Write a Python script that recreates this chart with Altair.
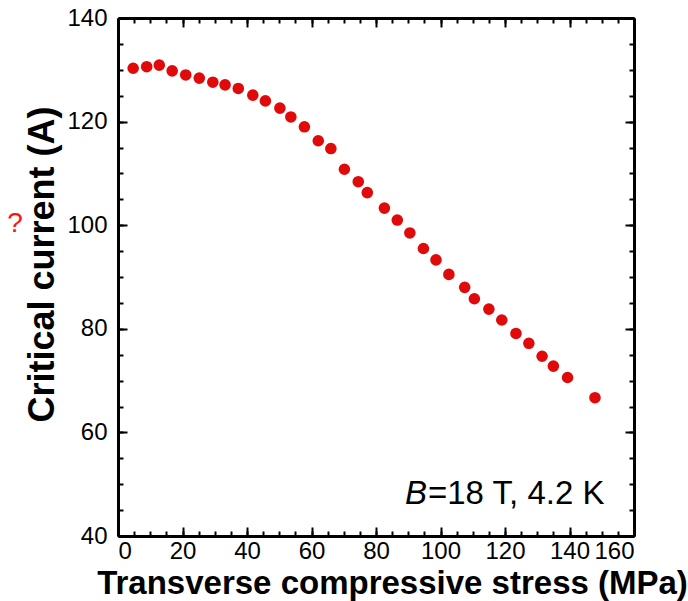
import altair as alt
import pandas as pd

# Transverse compressive stress (MPa) and measured critical current (A)
stress = [4.7, 8.9, 12.8, 16.8, 21.0, 25.2, 29.4, 33.2, 37.3, 41.8, 45.7, 50.2,
          53.6, 57.8, 62.1, 66.0, 70.2, 74.5, 77.3, 82.6, 86.6, 90.5, 94.7, 98.6,
          102.6, 107.5, 110.5, 115.0, 119.0, 123.4, 127.4, 131.5, 135.0, 139.4, 147.9]
current = [130.3, 130.6, 130.9, 129.8, 129.0, 128.4, 127.6, 127.1, 126.4, 125.1, 124.0, 122.6,
           120.9, 119.0, 116.3, 114.8, 110.8, 108.4, 106.3, 103.3, 101.0, 98.5, 95.5, 93.3,
           90.5, 88.0, 85.8, 83.8, 81.7, 79.1, 77.2, 74.7, 72.8, 70.6, 66.7]

x_major = list(range(0, 161, 20))
x_minor = list(range(0, 161, 5))
y_major = list(range(40, 141, 20))
y_minor = list(range(40, 141, 5))

W, H = 516, 518
FONT = "Liberation Sans"

df = pd.DataFrame({"stress": stress, "current": current})
xs = alt.Scale(domain=[0, 160], nice=False, zero=False)
ys = alt.Scale(domain=[40, 140], nice=False, zero=False)

base = alt.Chart(df)

main = base.mark_circle(size=135, color="#e00a0a", opacity=1).encode(
    x=alt.X("stress:Q", scale=xs, axis=alt.Axis(
        values=x_major, ticks=False, domain=True, domainWidth=3, domainColor="black",
        grid=False, labelFontSize=24, labelFont=FONT, labelColor="black", labelPadding=3,
        title="Transverse compressive stress (MPa)", titleFont=FONT,
        titleFontSize=33, titleFontWeight="bold", titleColor="black",
        titleX=274, titleY=57, titleBaseline="alphabetic", titleAnchor="middle",
        orient="bottom")),
    y=alt.Y("current:Q", scale=ys, axis=alt.Axis(
        values=y_major, ticks=False, domain=True, domainWidth=3, domainColor="black",
        grid=False, labelFontSize=24, labelFont=FONT, labelColor="black", labelPadding=11,
        title="Critical current (A)", titleFont=FONT, titleFontSize=36,
        titleFontWeight="bold", titleColor="black", titleX=-65, titleY=246,
        titleBaseline="alphabetic", titleAngle=-90, orient="left")),
)


def tick_layer(x_vals, x_orient, y_vals, y_orient, size, frame):
    # invisible copy of the points that only carries inward tick marks
    def ax(vals, orient, off):
        return alt.Axis(values=vals, orient=orient, offset=off, labels=False,
                        domain=frame, domainWidth=3, domainColor="black",
                        grid=False, title=None, tickSize=size,
                        tickWidth=2, tickColor="black")
    return base.mark_circle(opacity=0).encode(
        x=alt.X("stress:Q", scale=xs, axis=ax(x_vals, x_orient, -H)),
        y=alt.Y("current:Q", scale=ys, axis=ax(y_vals, y_orient, -W)),
    )


ticks = [
    tick_layer(x_major, "top", y_major, "right", 9, False),
    tick_layer(x_minor, "top", y_minor, "right", 5, False),
    tick_layer(x_major, "bottom", y_major, "left", 9, True),
    tick_layer(x_minor, "bottom", y_minor, "left", 5, False),
]

note_b = alt.Chart(pd.DataFrame({"t": ["B"]})).mark_text(
    font=FONT, fontSize=33, fontStyle="italic", align="left", baseline="alphabetic",
    color="black").encode(text="t:N", x=alt.value(287), y=alt.value(486))
note_rest = alt.Chart(pd.DataFrame({"t": ["=18 T, 4.2 K"]})).mark_text(
    font=FONT, fontSize=33, align="left", baseline="alphabetic",
    color="black").encode(text="t:N", x=alt.value(310), y=alt.value(486))
mark_q = alt.Chart(pd.DataFrame({"t": ["?"]})).mark_text(
    font=FONT, fontSize=28, align="center", baseline="middle",
    color="#ff1010").encode(text="t:N", x=alt.value(-103), y=alt.value(206))

chart = alt.layer(main, *ticks, note_b, note_rest, mark_q).resolve_axis(
    x="independent", y="independent"
).properties(
    width=W, height=H,
    autosize=alt.AutoSizeParams(type="none"),
    padding={"left": 118, "top": 18, "right": 54, "bottom": 65},
).configure_view(stroke=None).configure(background="white")

chart.save("out.html", embed_options={"renderer": "svg", "actions": False})
